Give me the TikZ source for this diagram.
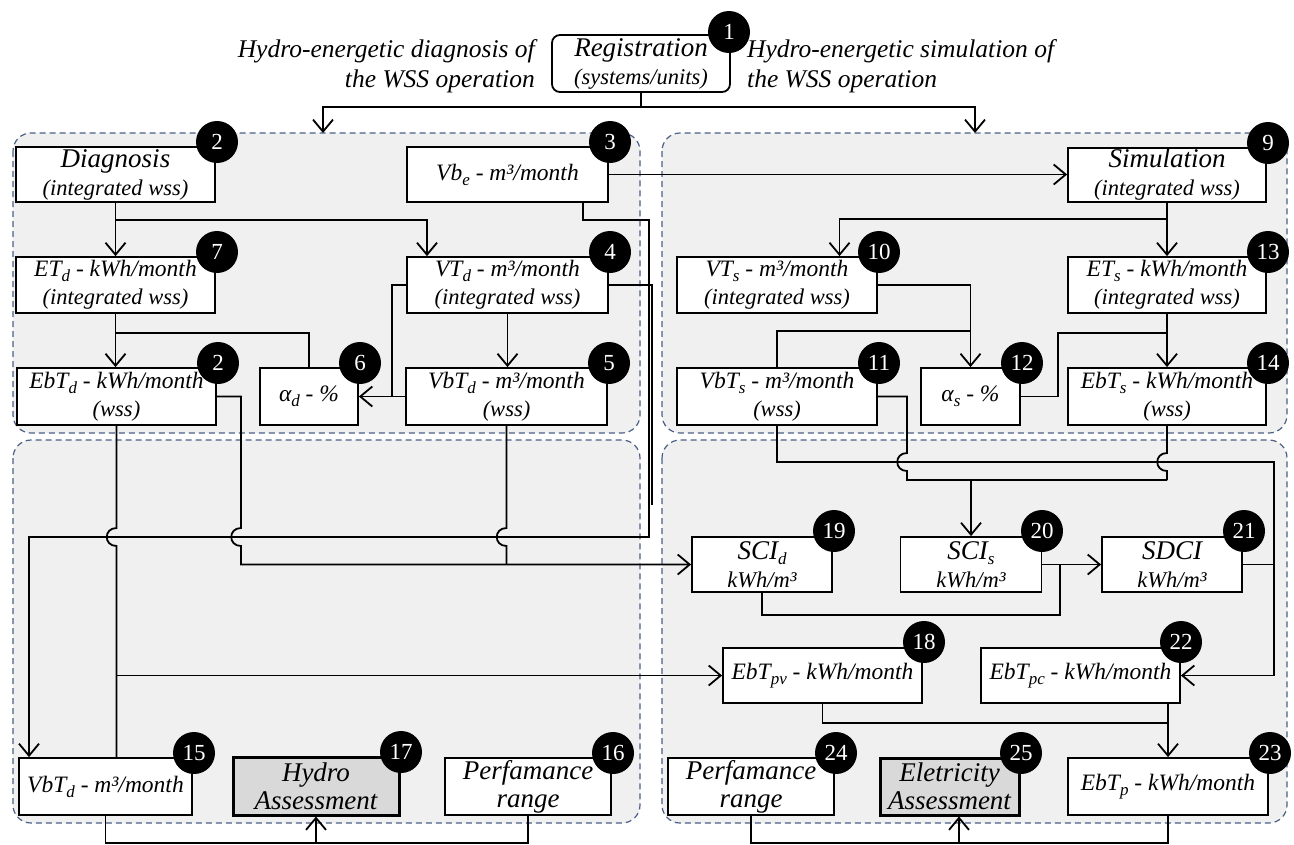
\documentclass[tikz,border=0pt]{standalone}
\usepackage{fontspec}
\setmainfont{Liberation Serif}
\usetikzlibrary{arrows.meta}
\newcommand\lsub[1]{\raisebox{-5pt}{\fontsize{17}{17}\selectfont #1}}
\newcommand\bigt[1]{{\fontsize{27}{28}\selectfont #1}}
\newcommand\smt[1]{{\fontsize{22.5}{24}\selectfont #1}}
\definecolor{panelfill}{RGB}{240,240,240}
\definecolor{paneledge}{RGB}{75,95,135}
\definecolor{assessfill}{RGB}{217,217,217}
\tikzset{
  panel/.style={draw=paneledge, fill=panelfill, dash pattern=on 6pt off 4pt, line width=1.2pt, rounded corners=18pt},
  box/.style={draw, fill=white, line width=1.8pt, inner sep=0pt, align=center, font=\itshape\fontsize{23.5}{28}\selectfont},
  bx/.style n args={2}{box, minimum width=#1pt, minimum height=#2pt},
  ax/.style n args={2}{bx={#1}{#2}, fill=assessfill, line width=3pt},
  num/.style={circle, fill=black, text=white, minimum size=42pt, inner sep=0pt, font=\fontsize{23}{23}\selectfont},
  conn/.style={line width=1.8pt},
  arr/.style={conn, -{Straight Barb[length=12pt,width=20pt]}},
  lbl/.style={font=\itshape\fontsize{25.5}{30}\selectfont, inner sep=0pt},
  hop/.style={to path={.. controls ([xshift=-13pt]\tikztostart) and ([xshift=-13pt]\tikztotarget) .. (\tikztotarget)}},
}
\begin{document}
\begin{tikzpicture}[x=1pt,y=-1pt]
\useasboundingbox (0,0) rectangle (1294,844);
% panels
\draw[panel] (13,133) rectangle (640,433);
\draw[panel] (13,440) rectangle (640,823);
\draw[panel] (662,133) rectangle (1287,433);
\draw[panel] (662,440) rectangle (1287,823);
% labels
\node[lbl, anchor=east, align=right] (lblL) at (535,66) {Hydro-energetic diagnosis of\\the WSS operation};
\node[lbl, anchor=west, align=left] (lblR) at (747,66) {Hydro-energetic simulation of\\the WSS operation};
% boxes
\node[bx={178}{57}, rounded corners=8pt] (reg) at (641,63.5) {\bigt{Registration}\\\smt{(systems/units)}};
\node[bx={199}{55}] (diag) at (115.5,174.5) {\bigt{Diagnosis}\\\smt{(integrated wss)}};
\node[bx={201}{55}] (vbe) at (507.5,174.5) {Vb\lsub{e} - m³/month};
\node[bx={199}{56}] (etd) at (115.5,285) {ET\lsub{d} - kWh/month\\\smt{(integrated wss)}};
\node[bx={201}{56}] (vtd) at (507.5,285) {VT\lsub{d} - m³/month\\\smt{(integrated wss)}};
\node[bx={199}{57}] (ebtd) at (116.5,396.5) {EbT\lsub{d} - kWh/month\\\smt{(wss)}};
\node[bx={98}{57}] (ad) at (309,396.5) {α\lsub{d} - \%};
\node[bx={201}{57}] (vbtd) at (506.5,396.5) {VbT\lsub{d} - m³/month\\\smt{(wss)}};
\node[bx={198}{54}] (sim) at (1167,175) {\bigt{Simulation}\\\smt{(integrated wss)}};
\node[bx={200}{56}] (vts) at (777,285) {VT\lsub{s} - m³/month\\\smt{(integrated wss)}};
\node[bx={198}{56}] (ets) at (1167,285) {ET\lsub{s} - kWh/month\\\smt{(integrated wss)}};
\node[bx={200}{57}] (vbts) at (777,396.5) {VbT\lsub{s} - m³/month\\\smt{(wss)}};
\node[bx={99}{57}] (as) at (970.5,396.5) {α\lsub{s} - \%};
\node[bx={198}{57}] (ebts) at (1167,396.5) {EbT\lsub{s} - kWh/month\\\smt{(wss)}};
\node[bx={140}{55}] (scid) at (762,564.5) {\bigt{SCI\lsub{d}}\\\smt{kWh/m³}};
\node[bx={141}{55}] (scis) at (971,564.5) {\bigt{SCI\lsub{s}}\\\smt{kWh/m³}};
\node[bx={140}{55}] (sdci) at (1172,564.5) {\bigt{SDCI}\\\smt{kWh/m³}};
\node[bx={199}{55}] (ebtpv) at (822.5,675.5) {EbT\lsub{pv} - kWh/month};
\node[bx={199}{55}] (ebtpc) at (1080.5,675.5) {EbT\lsub{pc} - kWh/month};
\node[bx={173}{57}] (vb15) at (105.5,786.5) {VbT\lsub{d} - m³/month};
\node[ax={166}{58}] (hydro) at (316,786) {\bigt{Hydro}\\\bigt{Assessment}};
\node[bx={166}{57}] (perf16) at (528,786.5) {\bigt{Perfamance}\\\bigt{range}};
\node[bx={166}{57}] (perf24) at (751,786.5) {\bigt{Perfamance}\\\bigt{range}};
\node[ax={139}{57}] (elec) at (949.5,786.5) {\bigt{Eletricity}\\\bigt{Assessment}};
\node[bx={200}{57}] (ebtp) at (1168,786.5) {EbT\lsub{p} - kWh/month};
% connectors: top
\coordinate (r0) at (641,107);
\coordinate (inL) at (323,133);
\coordinate (inR) at (975,133);
\draw[conn] (reg.south) -- (r0);
\draw[arr] (r0) -| (inL);
\draw[arr] (r0) -| (inR);
% top-left panel
\draw[arr] (diag.south) -- (etd.north);
\draw[arr] (diag.south) |- (427,220) -- ([xshift=-80.5pt]vtd.north);
\draw[arr] ([xshift=75.5pt]vbe.south) |- (649,220) -- (649,537) -| ([xshift=-76.5pt]vb15.north);
\draw[conn] (vtd.east) -| (652,505);
\draw[conn] (vtd.west) -| (392,396.5);
\draw[arr] (vbtd.west) -- (ad.east);
\draw[arr] (vtd.south) -- (vtd.south |- vbtd.north);
\draw[arr] (etd.south) -- (etd.south |- ebtd.north);
\draw[conn] (etd.south) ++(0,19) -| (ad.north);
% bottom-left panel
\draw[conn] (ebtd.south) -- (116.5,528) to[hop] (116.5,546) -- (ebtd.south |- vb15.north);
\draw[arr] (ebtpv.west -| ebtd.south) -- (ebtpv.west);
\draw[arr] (ebtd.east) -| (241,528) to[hop] (241,546) |- (scid.west);
\draw[conn] (vbtd.south) -- (506.5,528) to[hop] (506.5,546) -- (vbtd.south |- scid.west);
\draw[conn] (vb15.south) -- ++(0,27) -| (perf16.south);
\draw[arr] ([yshift=-27pt]hydro.south) -- (hydro.south);
% top-right panel
\draw[arr] (vbe.east) -- (vbe.east -| sim.west);
\draw[arr] (sim.south) -- (ets.north);
\draw[arr] (sim.south) ++(0,16) -| ([xshift=62.5pt]vts.north);
\draw[arr] (vts.east) -| (as.north);
\draw[conn] (vbts.north) |- ([yshift=36pt]as.north);
\draw[arr] (ets.south) -- (ebts.north);
\draw[conn] (as.east) -| (1058,333) -- (1167,333);
% bottom-right panel
\draw[arr] (vbts.south) |- (1274,462) |- (ebtpc.east);
\draw[conn] (sdci.east) -- (1274,564.5);
\draw[conn] (vbts.east) -| (907,453) to[hop] (907,471) |- (1167,480);
\draw[conn] (ebts.south) -- (1167,453) to[hop] (1167,471) -- (1167,480);
\draw[arr] ([yshift=57pt]scis.north) -- (scis.north);
\draw[arr] (scis.east) -- (sdci.west);
\draw[conn] (scid.south) |- (1060,615) -- (1060,564.5);
\draw[conn] (ebtpv.south) |- ([yshift=34pt]ebtp.north);
\draw[arr] (ebtpc.south -| ebtp.north) -- (ebtp.north);
\draw[conn] (perf24.south) -- ++(0,27) -| (ebtp.south);
\draw[arr] ([xshift=9.5pt,yshift=-27pt]elec.south) -- ([xshift=9.5pt]elec.south);
% numbers
\node[num] (n1) at (729,32) {1};
\node[num] (n2a) at (217,142) {2};
\node[num] (n3) at (610,142) {3};
\node[num] (n7) at (217,252) {7};
\node[num] (n4) at (610,252) {4};
\node[num] (n2b) at (218,363) {2};
\node[num] (n6) at (360,363) {6};
\node[num] (n5) at (609,363) {5};
\node[num] (n9) at (1268,143) {9};
\node[num] (n10) at (879,252) {10};
\node[num] (n13) at (1268,252) {13};
\node[num] (n11) at (879,363) {11};
\node[num] (n12) at (1022,363) {12};
\node[num] (n14) at (1268,363) {14};
\node[num] (n19) at (834,531) {19};
\node[num] (n20) at (1042,531) {20};
\node[num] (n21) at (1244,531) {21};
\node[num] (n18) at (924,642) {18};
\node[num] (n22) at (1181,642) {22};
\node[num] (n15) at (194,753) {15};
\node[num] (n17) at (401,752) {17};
\node[num] (n16) at (613,753) {16};
\node[num] (n24) at (836,753) {24};
\node[num] (n25) at (1021,753) {25};
\node[num] (n23) at (1270,753) {23};
\end{tikzpicture}
\end{document}
